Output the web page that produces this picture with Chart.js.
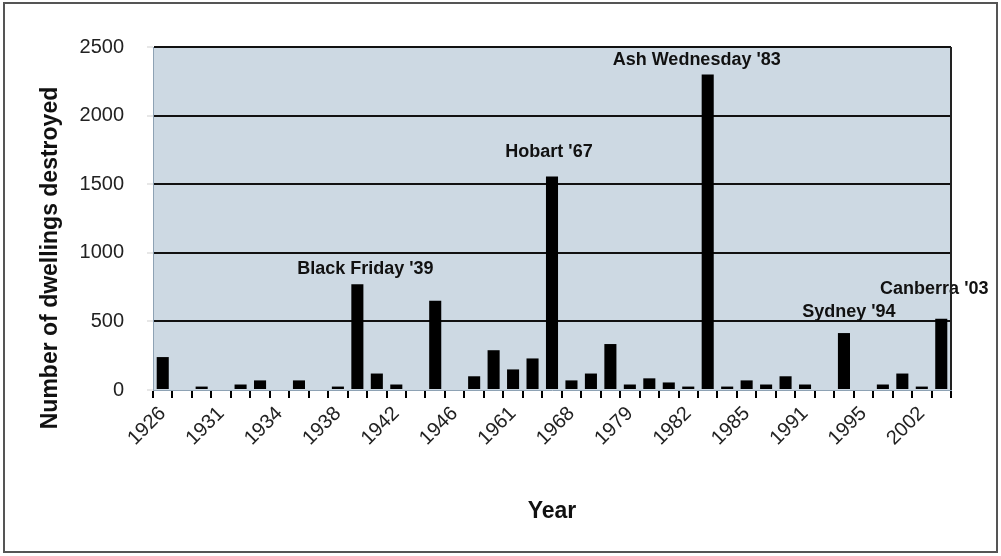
<!DOCTYPE html>
<html>
<head>
<meta charset="utf-8">
<script src="https://cdn.jsdelivr.net/npm/chart.js@4.4.1/dist/chart.umd.min.js"></script>
<style>
  html, body { margin: 0; padding: 0; background: #fff; }
  #wrap { position: relative; width: 1001px; height: 556px; }
  #frame { position: absolute; left: 3px; top: 2px; width: 991px; height: 547px; border: 2px solid #555; pointer-events: none; }
</style>
</head>
<body>
<div id="wrap">
  <canvas id="fireChart" width="1001" height="556"></canvas>
  <div id="frame"></div>
</div>
<script>
// visible year labels, one every third bar
const tickLabels = ['1926', '1931', '1934', '1938', '1942', '1946', '1961',
                    '1968', '1979', '1982', '1985', '1991', '1995', '2002'];

// dwellings destroyed per fire year
const dwellingsDestroyed = [
    240, 0, 25, 0, 40, 70, 0, 70, 0, 25,
    770, 120, 40, 0, 650, 0, 100, 290, 150, 230,
    1557, 70, 120, 335, 40, 85, 55, 25, 2300, 25,
    70, 40, 100, 40, 0, 415, 0, 40, 120, 25,
    520
];

// named fires: bar index + label
const eventIndex = [10, 20, 28, 35, 40];
const eventNames = ["Black Friday '39", "Hobart '67", "Ash Wednesday '83", "Sydney '94", "Canberra '03"];

const categories = dwellingsDestroyed.map((v, i) => i % 3 === 0 ? tickLabels[i / 3] : '');

const FONT = '"Liberation Sans", Arial, Helvetica, sans-serif';

// label offsets in px from the top-centre of each bar
const eventOffsets = [[8, 15], [-3, 24], [-11, 14], [5, 21], [-7, 30]];

const plotBackground = {
    id: 'plotBackground',
    beforeDraw(chart) {
        const { ctx, chartArea: a } = chart;
        ctx.save();
        ctx.fillStyle = '#cdd9e3';
        ctx.fillRect(a.left, a.top, a.right - a.left, a.bottom - a.top);
        ctx.restore();
    },
    afterDraw(chart) {
        const { ctx, chartArea: a } = chart;
        ctx.save();
        ctx.strokeStyle = '#222';
        ctx.lineWidth = 2;
        ctx.beginPath();
        ctx.moveTo(a.right, a.top);
        ctx.lineTo(a.right, a.bottom);
        ctx.stroke();

        // y axis title, sits a bit lower than the plot centre
        ctx.translate(51, 258);
        ctx.rotate(-Math.PI / 2);
        ctx.fillStyle = '#111';
        ctx.font = 'bold 23px ' + FONT;
        ctx.textAlign = 'center';
        ctx.textBaseline = 'middle';
        ctx.fillText('Number of dwellings destroyed', 0, 0);
        ctx.restore();
    }
};

const eventLabels = {
    id: 'eventLabels',
    afterDatasetsDraw(chart) {
        const { ctx, scales: { x, y } } = chart;
        ctx.save();
        ctx.fillStyle = '#111';
        ctx.font = 'bold 18px ' + FONT;
        ctx.textAlign = 'center';
        ctx.textBaseline = 'middle';
        eventIndex.forEach((idx, i) => {
            const px = x.getPixelForValue(idx) + eventOffsets[i][0];
            const py = y.getPixelForValue(dwellingsDestroyed[idx]) - eventOffsets[i][1];
            ctx.fillText(eventNames[i], px, py);
        });
        ctx.restore();
    }
};

const ctx = document.getElementById('fireChart').getContext('2d');
new Chart(ctx, {
    type: 'bar',
    data: {
        labels: categories,
        datasets: [{
            data: dwellingsDestroyed,
            backgroundColor: '#000',
            borderWidth: 0,
            barPercentage: 0.62,
            categoryPercentage: 1
        }]
    },
    options: {
        responsive: false,
        animation: false,
        devicePixelRatio: 1,
        layout: { padding: { left: 0, top: 47, right: 50, bottom: 0 } },
        plugins: { legend: { display: false }, tooltip: { enabled: false } },
        scales: {
            x: {
                grid: { offset: true, drawOnChartArea: false, color: '#000', tickColor: '#000', tickLength: 8, tickWidth: 2, lineWidth: 2 },
                border: { color: '#8ea2b4', width: 1 },
                ticks: { autoSkip: false, minRotation: 45, maxRotation: 45, padding: 4, color: '#222', font: { family: FONT, size: 20 } },
                title: { display: true, text: 'Year', color: '#111', font: { family: FONT, size: 23, weight: 'bold' }, padding: { top: 0, bottom: 31 } },
                afterFit(s) { s.height = 166; }
            },
            y: {
                min: 0,
                max: 2500,
                ticks: { stepSize: 500, padding: 23, color: '#222', font: { family: FONT, size: 20 }, callback: v => String(v) },
                grid: {
                    color: c => c.tick && c.tick.value === 0 ? 'rgba(0,0,0,0)' : '#111',
                    lineWidth: 2,
                    tickColor: '#cfcfcf',
                    tickLength: 6,
                    tickWidth: 1
                },
                border: { color: '#8ea2b4', width: 1 },
                afterFit(s) { s.width = 153; }
            }
        }
    },
    plugins: [plotBackground, eventLabels]
});
</script>
</body>
</html>
